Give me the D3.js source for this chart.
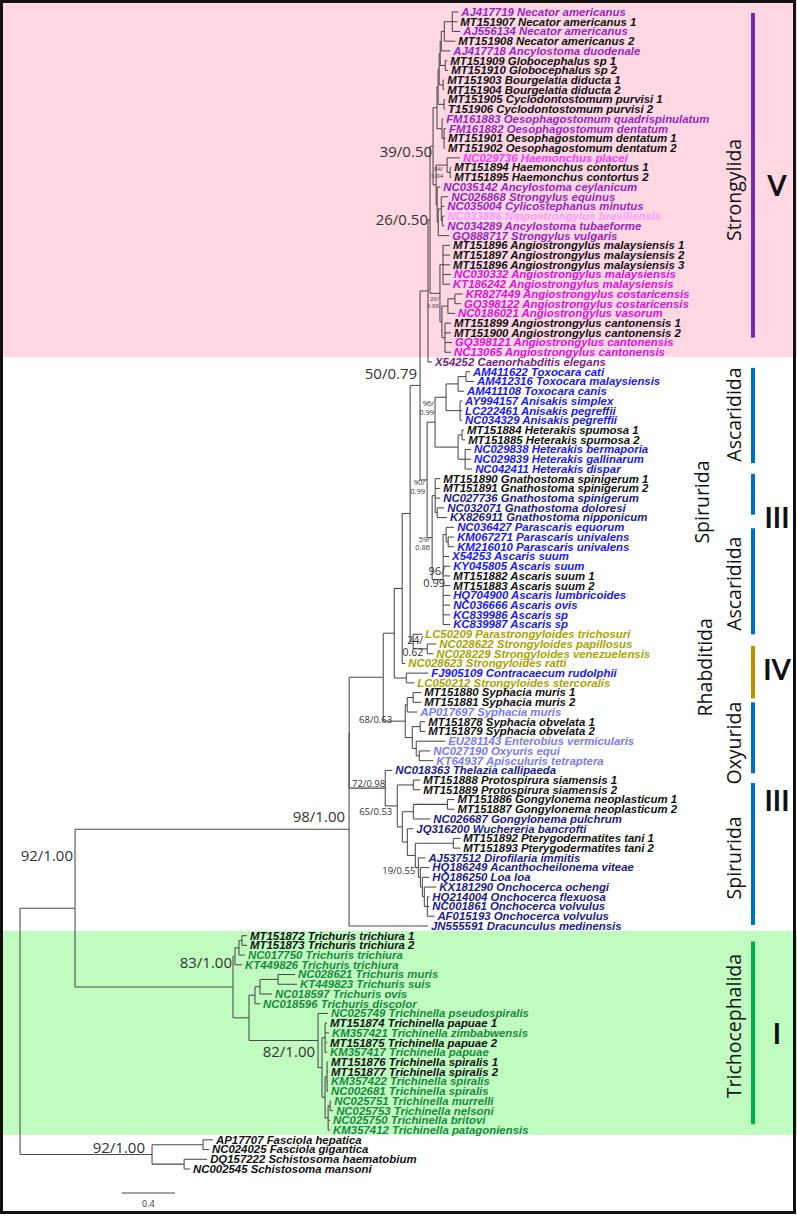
<!DOCTYPE html>
<html><head><meta charset="utf-8">
<script src="https://cdn.jsdelivr.net/npm/d3@7"></script>
<style>body{margin:0;background:#fff}</style>
</head><body>
<svg id="c" width="797" height="1216"></svg>
<script>
// ---------- DATA ----------
const accessions = ["AJ417719","MT151907","AJ556134","MT151908","AJ417718","MT151909","MT151910","MT151903","MT151904","MT151905","T151906","FM161883","FM161882","MT151901","MT151902","NC029736","MT151894","MT151895","NC035142","NC026868","NC035004","NC033886","NC034289","GQ888717","MT151896","MT151897","MT151896","NC030332","KT186242","KR827449","GQ398122","NC0186021","MT151899","MT151900","GQ398121","NC13065","X54252","AM411622","AM412316","AM411108","AY994157","LC222461","NC034329","MT151884","MT151885","NC029838","NC029839","NC042411","MT151890","MT151891","NC027736","NC032071","KX826911","NC036427","KM067271","KM216010","X54253","KY045805","MT151882","MT151883","HQ704900","NC036666","KC839986","KC839987","LC50209","NC028622","NC028229","NC028623","FJ905109","LC050212","MT151880","MT151881","AP017697","MT151878","MT151879","EU281143","NC027190","KT64937","NC018363","MT151888","MT151889","MT151886","MT151887","NC026687","JQ316200","MT151892","MT151893","AJ537512","HQ186249","HQ186250","KX181290","HQ214004","NC001861","AF015193","JN555591","MT151872","MT151873","NC017750","KT449826","NC028621","KT449823","NC018597","NC018596","NC025749","MT151874","KM357421","MT151875","KM357417","MT151876","MT151877","KM357422","NC002681","NC025751","NC025753","NC025750","KM357412","AP17707","NC024025","DQ157222","NC002545"];
const species = ["Necator americanus","Necator americanus 1","Necator americanus","Necator americanus 2","Ancylostoma duodenale","Globocephalus sp 1","Globocephalus sp 2","Bourgelatia diducta 1","Bourgelatia diducta 2","Cyclodontostomum purvisi 1","Cyclodontostomum purvisi 2","Oesophagostomum quadrispinulatum","Oesophagostomum dentatum","Oesophagostomum dentatum 1","Oesophagostomum dentatum 2","Haemonchus placei","Haemonchus contortus 1","Haemonchus contortus 2","Ancylostoma ceylanicum","Strongylus equinus","Cylicostephanus minutus","Nippostrongylus brasiliensis","Ancylostoma tubaeforme","Strongylus vulgaris","Angiostrongylus malaysiensis 1","Angiostrongylus malaysiensis 2","Angiostrongylus malaysiensis 3","Angiostrongylus malaysiensis","Angiostrongylus malaysiensis","Angiostrongylus costaricensis","Angiostrongylus costaricensis","Angiostrongylus vasorum","Angiostrongylus cantonensis 1","Angiostrongylus cantonensis 2","Angiostrongylus cantonensis","Angiostrongylus cantonensis","Caenorhabditis elegans","Toxocara cati","Toxocara malaysiensis","Toxocara canis","Anisakis simplex","Anisakis pegreffii","Anisakis pegreffii","Heterakis spumosa 1","Heterakis spumosa 2","Heterakis bermaporia","Heterakis gallinarum","Heterakis dispar","Gnathostoma spinigerum 1","Gnathostoma spinigerum 2","Gnathostoma spinigerum","Gnathostoma doloresi","Gnathostoma nipponicum","Parascaris equorum","Parascaris univalens","Parascaris univalens","Ascaris suum","Ascaris suum","Ascaris suum 1","Ascaris suum 2","Ascaris lumbricoides","Ascaris ovis","Ascaris sp","Ascaris sp","Parastrongyloides trichosuri","Strongyloides papillosus","Strongyloides venezuelensis","Strongyloides ratti","Contracaecum rudolphii","Strongyloides stercoralis","Syphacia muris 1","Syphacia muris 2","Syphacia muris","Syphacia obvelata 1","Syphacia obvelata 2","Enterobius vermicularis","Oxyuris equi","Apisculuris tetraptera","Thelazia callipaeda","Protospirura siamensis 1","Protospirura siamensis 2","Gongylonema neoplasticum 1","Gongylonema neoplasticum 2","Gongylonema pulchrum","Wuchereria bancrofti","Pterygodermatites tani 1","Pterygodermatites tani 2","Dirofilaria immitis","Acanthocheilonema viteae","Loa loa","Onchocerca ochengi","Onchocerca flexuosa","Onchocerca volvulus","Onchocerca volvulus","Dracunculus medinensis","Trichuris trichiura 1","Trichuris trichiura 2","Trichuris trichiura","Trichuris trichiura","Trichuris muris","Trichuris suis","Trichuris ovis","Trichuris discolor","Trichinella pseudospiralis","Trichinella papuae 1","Trichinella zimbabwensis","Trichinella papuae 2","Trichinella papuae","Trichinella spiralis 1","Trichinella spiralis 2","Trichinella spiralis","Trichinella spiralis","Trichinella murrelli","Trichinella nelsoni","Trichinella britovi","Trichinella patagoniensis","Fasciola hepatica","Fasciola gigantica","Schistosoma haematobium","Schistosoma mansoni"];
const colorGroup = ["p","k","p","k","p","k","k","k","k","k","k","p","p","k","k","hp","k","k","p","p","p","lp","p","p","k","k","k","m","m","m","m","m","k","k","m","m","dp","b","b","b","b","b","b","k","k","b","b","b","k","k","n","n","n","b","b","b","b","b","k","k","b","b","b","b","o","o","o","o","b","o","k","k","lb","k","k","lb","lb","lb","n","k","k","k","k","n","n","k","k","n","n","n","n","n","n","n","n","k","k","g","g","g","g","g","g","g","k","g","k","g","k","k","g","g","g","g","g","g","k","k","k","k"];

// tree topology with branch lengths (substitutions/site), leaves = L<index>
const hookworms = "((((((L0:0.045,L1:0.038,L2:0.060):0.060,L3:0.083):0.023,L4:0.068):0.008,(L5:0.015,L6:0.023):0.038):0.008,(L7:0.008,L8:0.008):0.030):0.008,(L9:0.008,L10:0.008):0.045):0.008,(L11:0.008,(L12:0.015,L13:0.008,L14:0.008):0.015):0.038)";
const haemonchus = "(L15:0.098,(L16:0.008,L17:0.008):0.023)n84";
const strongylus = "(L18:0.023,((L19:0.053,L20:0.023,(L21:0.015,L22:0.015):0.008):0.023,L23:0.083):0.008)";
const angio = "((L24:0.053,L25:0.053,L26:0.053,L27:0.060,L28:0.053):0.023,(((L29:0.060,L30:0.045):0.053,L31:0.053):0.045,(L32:0.045,L33:0.045,L34:0.053,L35:0.045):0.023):0.015)n29";
const strongylida = `(((${hookworms}:0.030,(${haemonchus}:0.083,${strongylus}:0.008):0.023)n39:0.023,${angio}:0.075)n26:0.015,L36:0.030)`;
const ascaridoidea = "((((L37:0.030,L38:0.060):0.060,L39:0.045):0.091,(L40:0.015,L41:0.015,L42:0.015):0.106):0.083,((L43:0.015,L44:0.023):0.030,(L45:0.045,L46:0.045,L47:0.053):0.053):0.174)n96a";
const gnathAscaris = `(${ascaridoidea}:0.060,((L48:0.038,L49:0.038,L50:0.038,(L51:0.053,L52:0.075):0.015):0.023,((L53:0.060,(L54:0.045,L55:0.045):0.015):0.023,L56:0.045,L57:0.053,L58:0.053,L59:0.053,L60:0.053,L61:0.053,L62:0.053,L63:0.053)n96b:0.083)n59:0.038)n90`;
const strongyloides = "(L64:0.068,(L65:0.068,L66:0.045)n24:0.106)";
const oxyurida = "(((L70:0.060,L71:0.060):0.045,L72:0.075):0.015,((L73:0.038,L74:0.038):0.060,(L75:0.219,(L76:0.083,L77:0.106):0.023):0.030):0.053)n68";
const spirurida = "(L78:0.053,((L79:0.053,L80:0.053):0.121,(((L81:0.053,L82:0.053):0.257,L83:0.128):0.083,(L84:0.045,((L85:0.053,L86:0.053):0.287,(L87:0.053,(L88:0.068,(L89:0.053,(L90:0.091,(L91:0.015,L92:0.015,L93:0.053):0.023):0.015):0.015):0.015)n19:0.023):0.060):0.038):0.038)n65:0.091)n72";
const upper = `(((((${strongylida}:0.060,${gnathAscaris}:0.053)n50:0.075,${strongyloides}:0.023):0.060,L67:0.023):0.060,(L68:0.166,L69:0.060):0.091):0.083,${oxyurida}:0.166)`;
const chromadorea = `((${upper}:0.257,${spirurida}:0.272):0.001,L94:0.596)n98`;
const trichocephalida = "((((L95:0.038,L96:0.038):0.023,L97:0.045):0.030,L98:0.053):0.015,((((L99:0.128,L100:0.143):0.136,L101:0.091):0.038,L102:0.038):0.045,(L103:0.075,((L104:0.015,L105:0.030,L106:0.015,L107:0.015):0.023,((L108:0.008,L109:0.008,L110:0.008,L111:0.008):0.015,((L112:0.008,L113:0.023):0.015,L114:0.015,L115:0.015):0.023):0.023):0.030)n82:0.521):0.121)n83";
const trematoda = "((L116:0.075,L117:0.045):0.385,(L118:0.174,L119:0.045):0.242)n92b";
const newick = `(((${chromadorea}:2.068,${trichocephalida}:1.192)n92a:0.415,${trematoda}:0.996):0.091);`;

// bootstrap / posterior support labels
const supportIds  = ["n39","n26","n84","n29","n50","n96a","n90","n59","n96b","n24","n68","n72","n65","n98","n19","n92a","n83","n82","n92b"];
const supportText = ["39/0.50","26/0.50","84/0.94","29/0.88","50/0.79","96/0.99","90/0.99","59/0.86","96/0.99","24/0.62","68/0.63","72/0.98","65/0.53","98/1.00","19/0.55","92/1.00","83/1.00","82/1.00","92/1.00"];
const supportSize = [15,15,6,6,15,7.5,7.5,7.5,11,10.5,9.5,9.5,9.5,15,9.5,15,15,15,15];
const supportTwoLine = [0,0,1,1,0,1,1,1,1,1,0,0,0,0,0,0,0,0,0];
// label placement relative to its node (px)
const supportDx = [-1,-2,-4,-1,-3,-1,-2,-2,2,-4,-13,0,-5,-4,-3,-2,-1,-3,-7];
const supportDy = [11,5,6,8,-6,-16,5,4,-5,-5,2,-1.5,9.5,-7.5,6,-47,-19,16.6,-1.4];

// clade annotations (leaf index ranges)
const cladeNames = ["Strongylida","Ascaridida","Spirurida","Ascaridida","Rhabditida","Oxyurida","Spirurida","Trichocephalida"];
const cladeMid   = [18.3, 41.4, 50.4, 58.8, 67.4, 75.2, 87.0, 104.3];
const barStart = [0.1, 36.6, 47.5, 53.1, 65.2, 71.0, 79.3, 95.6];
const barEnd   = [33.5, 46.4, 51.7, 64.0, 70.6, 78.3, 93.9, 114.4];
const barColor = ["#7030a0","#0070c0","#0070c0","#0070c0","#bf9000","#0070c0","#0070c0","#00b050"];
const romanText = ["V","III","IV","III","I"];
const romanMid  = [17.9, 52.0, 67.7, 81.2, 105.1];
const bandRanges = [[-2, 35.5, "#ffd8e4"], [94.5, 115.5, "#c0fcc0"]];

// ---------- LAYOUT ----------
const svg = d3.select("#c");
const palette = {k:"#111111", p:"#9c1fc6", m:"#e010e0", hp:"#ff3cff", lp:"#ff9cff", dp:"#7f1a80",
  b:"#1818ff", n:"#1b1b8e", o:"#a9a400", lb:"#7a7aff", g:"#178a3e"};

function parseNewick(s){
  let i = 0;
  function read(){
    const node = {name:"", length:0, children:[]};
    if (s[i] === "("){
      i++;
      node.children.push(read());
      while (s[i] === ","){ i++; node.children.push(read()); }
      if (s[i] !== ")") throw new Error("Newick parse error at " + i + " char " + s[i]);
      i++;
    }
    let name = "";
    while (i < s.length && !",():;".includes(s[i])) name += s[i++];
    node.name = name;
    if (s[i] === ":"){ i++; let num = ""; while (i < s.length && !",();".includes(s[i])) num += s[i++]; node.length = +num; }
    return node;
  }
  return read();
}
const root = d3.hierarchy(parseNewick(newick), d => d.children.length ? d.children : null);
root.eachBefore(d => { d.dist = (d.parent ? d.parent.dist : 0) + d.data.length; });
const leaves = root.leaves();
if (leaves.length !== 120) throw new Error("leaf count " + leaves.length);

const xScale = d3.scaleLinear().domain([0, 1]).range([8, 140.5]);
const yScale = d3.scaleLinear().domain([0, 119]).range([12, 1169]);
leaves.forEach((d, i) => { d.py = yScale(i); });
root.eachAfter(d => { if (d.children) d.py = (d.children[0].py + d.children[d.children.length - 1].py) / 2; });
root.each(d => { d.px = xScale(d.dist); });

bandRanges.forEach(b => {
  const y0 = b[0] < 0 ? 0 : yScale(b[0]);
  svg.append("rect").attr("x", 0).attr("width", 797).attr("y", y0).attr("height", yScale(b[1]) - y0).attr("fill", b[2]);
});

const g = svg.append("g");
const lineColor = "#4a4a4a";
g.selectAll("line.h").data(root.descendants().filter(d => d.parent)).join("line")
  .attr("x1", d => d.parent.px).attr("x2", d => d.px).attr("y1", d => d.py).attr("y2", d => d.py)
  .attr("stroke", lineColor).attr("stroke-width", 1.05);
g.selectAll("line.v").data(root.descendants().filter(d => d.children && d.children.length > 1)).join("line")
  .attr("x1", d => d.px).attr("x2", d => d.px)
  .attr("y1", d => d.children[0].py).attr("y2", d => d.children[d.children.length - 1].py)
  .attr("stroke", lineColor).attr("stroke-width", 1.05);

g.selectAll("text.leaf").data(leaves).join("text")
  .attr("x", d => d.px + 3).attr("y", d => d.py + 3.9)
  .attr("font-family", "'Liberation Sans', Arial, sans-serif").attr("font-size", 11.4)
  .attr("font-weight", "bold").attr("font-style", "italic")
  .attr("fill", d => palette[colorGroup[+d.data.name.slice(1)]])
  .text(d => { const k = +d.data.name.slice(1); return accessions[k] + " " + species[k]; });

const byName = new Map(root.descendants().filter(d => d.data.name).map(d => [d.data.name, d]));
supportIds.forEach((id, i) => {
  const nd = byName.get(id);
  const fs = supportSize[i];
  const x = nd.px + supportDx[i], y = nd.py + supportDy[i];
  const t = g.append("text").attr("font-family", "'Open Sans', sans-serif").attr("font-size", fs)
    .attr("fill", "#333").attr("text-anchor", "end");
  if (supportTwoLine[i]) {
    const [a, b] = supportText[i].split("/");
    t.append("tspan").attr("x", x).attr("y", y).text(a + "/");
    t.append("tspan").attr("x", x).attr("y", y + fs * 1.15).text(b);
  } else {
    t.attr("x", x).attr("y", y).text(supportText[i]);
  }
});

barStart.forEach((s, i) => {
  svg.append("rect").attr("x", 751).attr("width", 4).attr("y", yScale(s))
    .attr("height", yScale(barEnd[i]) - yScale(s)).attr("fill", barColor[i]);
});
const labelX = [741, 741, 709, 741, 712, 741, 741, 741];
cladeNames.forEach((n, i) => {
  svg.append("text").attr("transform", `translate(${labelX[i]},${yScale(cladeMid[i])}) rotate(-90)`)
    .attr("text-anchor", "middle").attr("font-family", "'Open Sans', sans-serif").attr("font-size", 19.5)
    .attr("fill", "#111").text(n);
});
romanText.forEach((r, i) => {
  svg.append("text").attr("x", 777).attr("y", yScale(romanMid[i]) + 10).attr("text-anchor", "middle")
    .attr("font-family", "Lato, 'Open Sans', sans-serif").attr("font-weight", 700).attr("font-size", 28)
    .attr("fill", "#111").text(r);
});

const sb0 = 0.86;
svg.append("line").attr("x1", xScale(sb0)).attr("x2", xScale(sb0 + 0.4)).attr("y1", 1193).attr("y2", 1193)
  .attr("stroke", "#444").attr("stroke-width", 1.2);
svg.append("text").attr("x", xScale(sb0 + 0.2)).attr("y", 1207).attr("text-anchor", "middle")
  .attr("font-family", "'Open Sans', sans-serif").attr("font-size", 9).attr("fill", "#333").text("0.4");

svg.append("rect").attr("x", 1.5).attr("y", 1.5).attr("width", 793).attr("height", 1211)
  .attr("fill", "none").attr("stroke", "#111").attr("stroke-width", 3);
</script>
</body></html>
